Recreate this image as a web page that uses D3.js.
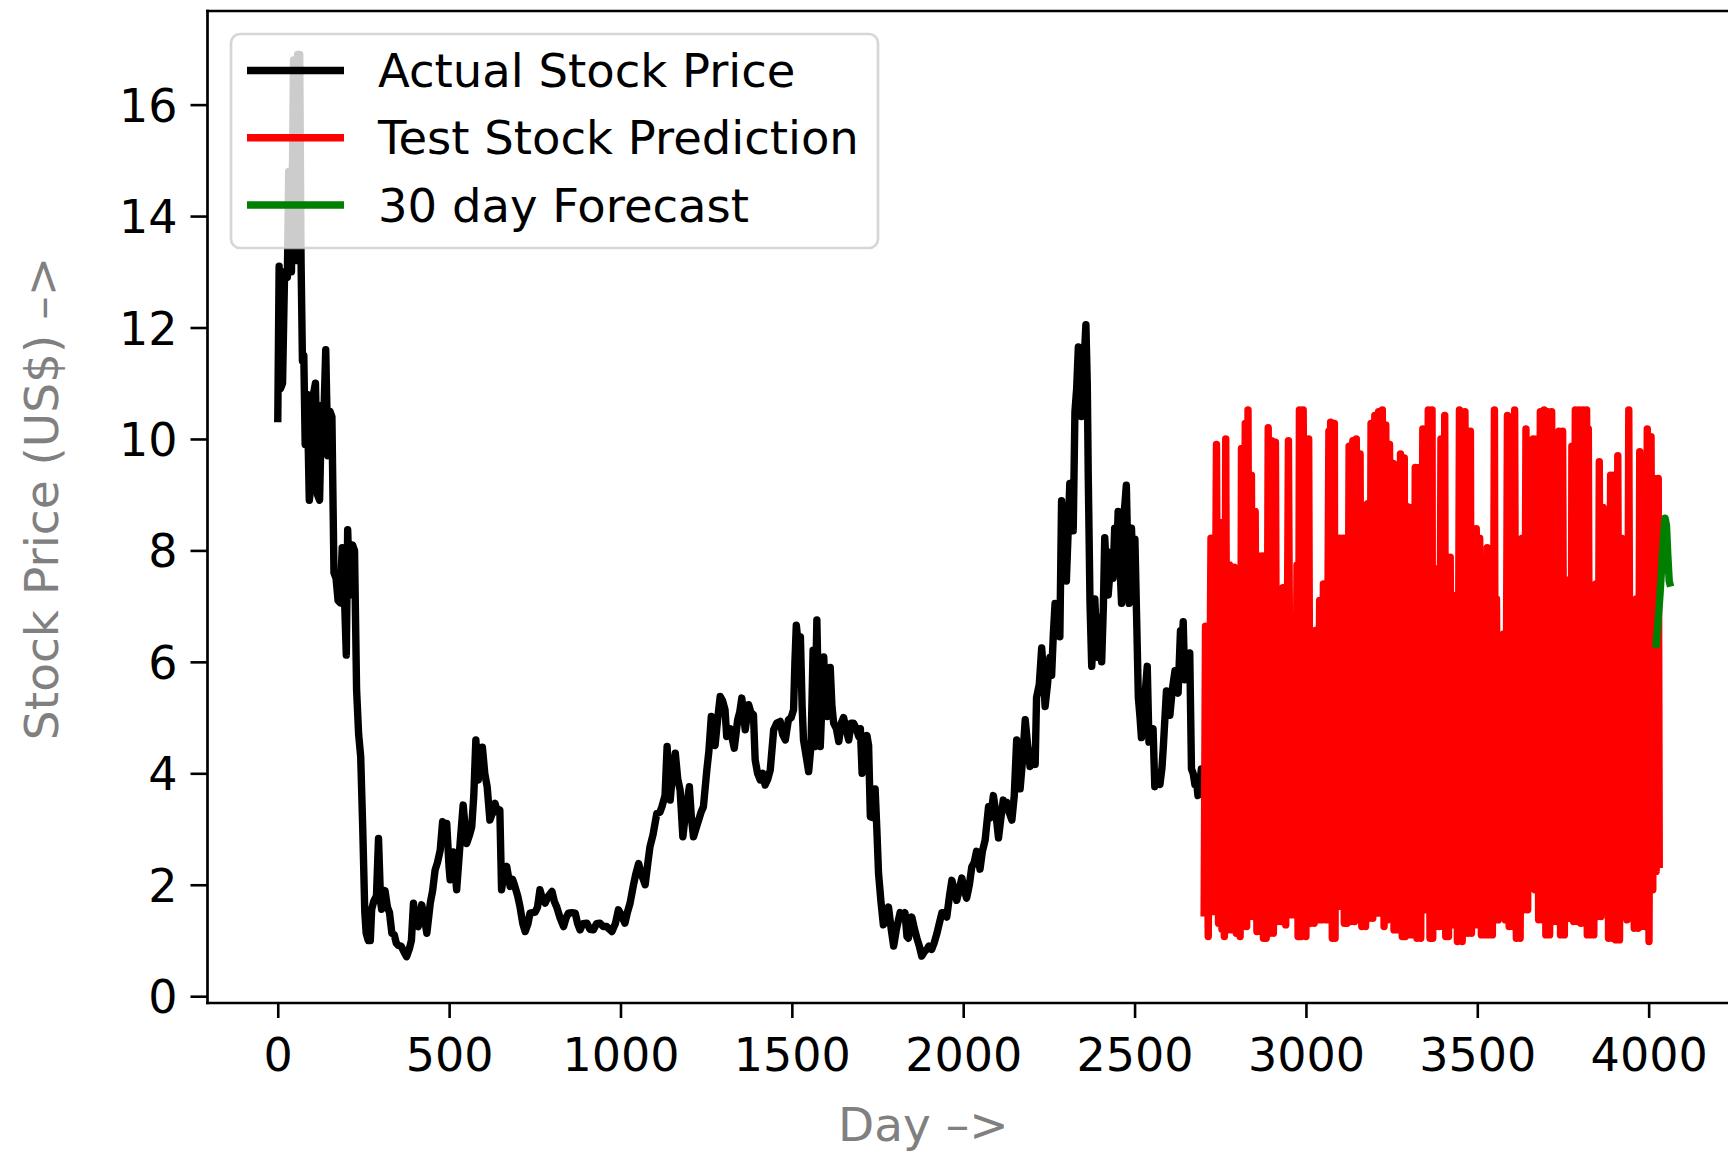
<!DOCTYPE html>
<html><head><meta charset="utf-8">
<script src="https://cdn.jsdelivr.net/npm/d3@7"></script>
<style>html,body{margin:0;padding:0;background:#fff;overflow:hidden}</style>
</head><body><svg id="c" width="1728" height="1158"></svg>
<script>
const xTicks = [0, 500, 1000, 1500, 2000, 2500, 3000, 3500, 4000];
const yTicks = [0, 2, 4, 6, 8, 10, 12, 14, 16];
const seriesNames = ["Actual Stock Price", "Test Stock Prediction", "30 day Forecast"];
const seriesColors = ["#000000", "#ff0000", "#008000"];
const xLabel = "Day –>";
const yLabel = "Stock Price (US$) –>";

// [day, price]
const actualPrice = [
[0,10.3],[4,13.1],[8,10.9],[14,11.0],[20,13.0],[28,12.9],[32,14.8],[40,13.0],[46,16.8],[52,13.2],[58,16.9],[64,16.9],[68,13.2],[72,11.4],[76,11.5],[80,9.9],[86,10.8],[92,8.9],[98,9.2],[104,10.8],[110,11.0],[116,9.0],[122,8.9],[128,10.6],[134,10.3],[140,11.6],[146,9.7],[152,10.5],[158,10.4],[164,7.6],[170,7.5],[176,7.1],[182,7.06],[188,8.05],[194,7.3],[200,6.12],[204,8.37],[210,7.2],[218,8.1],[224,8.0],[230,5.5],[236,4.7],[242,4.3],[248,3.0],[254,1.5],[258,1.13],[264,1.0],[270,1.0],[274,1.56],[280,1.7],[288,1.8],[294,2.83],[300,1.7],[303,1.56],[308,1.9],[313,1.89],[320,1.6],[326,1.5],[333,1.13],[340,1.1],[346,0.95],[352,0.91],[360,0.9],[368,0.8],[376,0.71],[384,0.85],[390,1.0],[396,1.67],[402,1.3],[410,1.25],[420,1.64],[428,1.4],[435,1.13],[445,1.67],[452,1.9],[459,2.26],[466,2.4],[474,2.62],[481,3.13],[487,3.1],[493,3.1],[500,2.3],[503,2.09],[512,2.59],[522,1.91],[532,2.74],[541,3.43],[551,2.74],[560,2.9],[566,3.04],[572,3.6],[578,4.6],[585,3.88],[590,4.2],[597,4.47],[604,4.0],[611,3.76],[619,3.16],[627,3.3],[634,3.46],[641,3.3],[648,3.34],[653,1.91],[660,2.2],[668,2.33],[678,1.97],[685,2.1],[692,1.97],[700,1.8],[707,1.6],[715,1.3],[722,1.16],[730,1.3],[736,1.49],[751,1.51],[758,1.6],[765,1.91],[772,1.75],[780,1.67],[790,1.8],[800,1.88],[807,1.7],[814,1.6],[824,1.4],[834,1.25],[841,1.4],[848,1.49],[858,1.5],[868,1.49],[875,1.3],[882,1.19],[890,1.3],[902,1.31],[911,1.2],[921,1.19],[930,1.3],[940,1.31],[950,1.25],[960,1.25],[968,1.2],[975,1.16],[985,1.3],[994,1.55],[1003,1.45],[1013,1.31],[1020,1.5],[1028,1.67],[1038,2.0],[1045,2.2],[1053,2.38],[1060,2.2],[1067,2.09],[1072,2.0],[1080,2.4],[1086,2.68],[1095,2.9],[1106,3.28],[1115,3.3],[1121,3.4],[1130,3.6],[1136,4.48],[1145,3.52],[1152,4.0],[1160,4.36],[1167,3.9],[1174,3.7],[1182,2.86],[1190,3.3],[1201,3.76],[1207,3.2],[1213,2.86],[1220,3.0],[1228,3.16],[1235,3.3],[1242,3.4],[1252,4.06],[1258,4.4],[1265,5.02],[1270,4.6],[1276,4.5],[1284,5.0],[1291,5.38],[1298,5.3],[1305,5.14],[1310,4.66],[1320,4.8],[1332,4.45],[1342,4.96],[1348,5.1],[1354,5.35],[1364,4.78],[1374,5.23],[1380,5.1],[1388,5.05],[1393,4.24],[1400,4.0],[1408,3.88],[1415,4.0],[1422,3.79],[1430,3.9],[1437,4.06],[1447,4.78],[1456,4.9],[1466,4.93],[1473,4.7],[1481,4.6],[1490,4.96],[1498,5.0],[1505,5.14],[1509,6.0],[1513,6.66],[1519,6.3],[1525,6.45],[1530,5.2],[1534,4.6],[1542,4.3],[1549,4.03],[1556,4.5],[1562,6.21],[1566,4.48],[1573,6.75],[1578,5.2],[1583,4.48],[1593,6.09],[1598,5.4],[1603,5.02],[1612,5.9],[1617,5.2],[1622,4.9],[1630,4.8],[1637,4.57],[1644,4.9],[1651,5.0],[1658,4.8],[1666,4.6],[1673,4.9],[1680,4.9],[1688,4.8],[1695,4.66],[1700,4.8],[1705,4.0],[1712,4.2],[1719,4.68],[1724,4.5],[1729,3.22],[1738,3.2],[1743,3.72],[1748,3.0],[1753,2.2],[1760,1.7],[1767,1.28],[1775,1.4],[1782,1.6],[1790,1.2],[1797,0.9],[1805,1.2],[1816,1.5],[1824,1.4],[1830,1.5],[1836,1.07],[1840,1.04],[1850,1.42],[1858,1.2],[1865,1.04],[1872,0.9],[1879,0.72],[1887,0.8],[1894,0.84],[1900,0.9],[1908,0.84],[1915,0.95],[1923,1.12],[1930,1.3],[1938,1.5],[1945,1.5],[1952,1.42],[1960,1.8],[1967,2.08],[1974,1.9],[1981,1.72],[1988,1.9],[1996,2.12],[2003,1.9],[2010,1.76],[2018,2.0],[2025,2.32],[2032,2.4],[2039,2.6],[2044,2.5],[2049,2.28],[2056,2.6],[2064,2.8],[2069,3.1],[2074,3.4],[2080,3.2],[2088,3.6],[2095,3.3],[2103,2.84],[2110,3.2],[2117,3.52],[2122,3.4],[2127,3.48],[2134,3.3],[2142,3.16],[2149,3.6],[2156,4.6],[2161,4.2],[2166,3.72],[2174,4.3],[2181,4.96],[2188,4.5],[2195,4.12],[2203,4.4],[2210,4.16],[2214,5.36],[2222,5.6],[2229,6.25],[2234,5.8],[2239,5.2],[2246,5.6],[2253,6.08],[2258,5.76],[2263,6.5],[2268,7.05],[2275,6.8],[2282,6.45],[2287,8.89],[2294,8.2],[2301,7.45],[2306,8.3],[2311,9.2],[2316,8.8],[2321,8.35],[2326,10.49],[2331,10.9],[2336,11.65],[2341,11.0],[2345,10.4],[2352,11.3],[2358,12.05],[2362,11.0],[2365,9.28],[2370,7.05],[2375,5.92],[2380,6.5],[2384,7.13],[2389,6.4],[2394,6.08],[2399,6.8],[2404,6.0],[2409,7.0],[2413,8.23],[2418,7.6],[2423,7.2],[2428,7.6],[2432,7.97],[2437,7.5],[2442,8.4],[2447,7.6],[2452,8.7],[2457,7.8],[2462,7.05],[2469,8.6],[2476,9.17],[2480,8.0],[2484,7.05],[2491,8.4],[2496,7.6],[2501,8.2],[2506,6.8],[2511,5.36],[2516,5.0],[2520,4.64],[2528,5.2],[2537,5.92],[2542,4.56],[2548,4.7],[2554,4.8],[2559,3.76],[2566,3.9],[2574,3.8],[2580,4.1],[2584,4.48],[2593,5.48],[2598,5.2],[2603,5.04],[2610,5.5],[2618,5.84],[2622,5.5],[2627,5.44],[2634,6.56],[2638,6.2],[2642,6.72],[2646,5.68],[2654,5.9],[2661,6.16],[2666,4.08],[2671,4.0],[2676,3.8],[2680,3.9],[2685,3.6],[2690,3.8],[2695,4.08],[2700,4.0],[2705,3.9],
[2712,4.0],[2760,4.3],[2820,4.5],[2880,4.4],[2930,4.6],[2963,4.0],[3000,4.8],[3060,5.2],[3120,5.4],[3180,5.6],[3260,5.5],[3340,5.8],[3420,6.0],[3500,5.9],[3566,5.6],[3620,6.0],[3700,6.2],[3780,6.0],[3835,6.0],[3860,6.8],[3872,7.6],[3877,8.0],[3881,6.7],[3900,6.8],[3940,6.6],[3950,6.4],[3960,6.6],[3980,7.2],[3986,9.2],[3990,7.3],[3998,7.3],[4010,6.5],[4030,6.3]
];

const testPrediction = [
[2703,1.43],[2707,6.64],[2715,1.07],[2723,8.22],[2731,1.52],[2739,9.9],[2745,1.31],[2750,8.5],[2755,1.2],[2759,7.74],[2762,1.07],[2766,10.0],[2771,1.19],[2777,7.74],[2784,1.19],[2791,7.7],[2797,1.13],[2804,6.5],[2808,1.07],[2812,9.83],[2817,1.25],[2823,10.28],[2827,1.25],[2831,10.52],[2836,1.43],[2841,9.35],[2846,1.43],[2852,8.7],[2857,1.16],[2863,7.9],[2868,1.16],[2874,7.9],[2876,1.04],[2879,5.82],[2884,1.04],[2890,10.2],[2895,1.13],[2900,9.97],[2905,1.13],[2911,9.94],[2916,1.34],[2922,5.75],[2927,1.34],[2933,7.33],[2941,1.28],[2949,9.97],[2956,1.46],[2963,4.7],[2968,1.46],[2974,7.74],[2977,1.07],[2981,10.52],[2986,1.07],[2992,10.52],[3000,1.07],[3008,10.0],[3013,1.31],[3019,6.3],[3024,1.31],[3029,6.57],[3034,1.37],[3040,7.1],[3045,1.37],[3051,7.4],[3059,1.37],[3067,10.14],[3069,1.37],[3072,10.3],[3077,1.04],[3083,10.28],[3085,1.04],[3088,8.22],[3093,1.61],[3099,8.22],[3104,1.61],[3110,8.22],[3112,1.31],[3115,6.23],[3120,1.31],[3126,9.87],[3131,1.34],[3137,9.97],[3142,1.34],[3147,10.0],[3152,2.09],[3158,9.73],[3163,1.25],[3169,6.37],[3174,1.25],[3180,8.84],[3185,1.4],[3190,10.28],[3195,1.4],[3201,10.42],[3206,1.49],[3212,10.49],[3217,1.49],[3223,10.52],[3228,1.25],[3233,10.25],[3238,1.37],[3244,9.9],[3249,1.76],[3255,9.56],[3257,1.19],[3260,6.23],[3268,1.19],[3276,9.73],[3281,1.07],[3287,9.66],[3290,1.07],[3292,8.8],[3298,1.1],[3303,8.77],[3306,1.1],[3309,8.0],[3314,1.1],[3319,9.49],[3324,1.04],[3330,9.49],[3335,1.04],[3341,10.18],[3343,1.55],[3346,7.54],[3351,1.55],[3357,10.52],[3362,1.04],[3368,10.52],[3370,1.04],[3373,7.4],[3378,1.25],[3384,7.67],[3389,1.25],[3394,10.0],[3400,1.25],[3405,10.42],[3408,1.07],[3411,6.64],[3416,1.07],[3421,7.88],[3426,1.28],[3432,7.19],[3434,1.28],[3437,6.78],[3442,0.98],[3448,10.52],[3456,0.98],[3464,10.49],[3472,1.13],[3480,10.14],[3483,1.13],[3486,8.29],[3491,1.28],[3497,8.39],[3502,1.28],[3507,8.22],[3512,1.1],[3518,7.47],[3523,1.1],[3529,8.05],[3534,1.1],[3539,7.47],[3544,1.1],[3550,10.52],[3553,1.37],[3556,7.13],[3561,1.37],[3566,6.3],[3571,1.97],[3577,6.5],[3582,1.37],[3588,10.42],[3593,1.25],[3599,10.38],[3604,1.25],[3609,10.52],[3614,1.04],[3620,8.15],[3625,1.04],[3631,8.22],[3636,1.55],[3642,10.18],[3647,1.55],[3652,8.84],[3657,2.21],[3663,10.0],[3668,1.91],[3674,10.0],[3679,1.37],[3684,10.49],[3689,1.37],[3695,10.52],[3700,1.1],[3706,10.49],[3711,1.1],[3717,10.49],[3722,1.34],[3727,10.07],[3732,1.34],[3738,10.14],[3743,1.1],[3749,10.14],[3754,1.1],[3760,7.47],[3765,1.4],[3770,7.06],[3773,1.4],[3776,9.87],[3781,1.34],[3786,10.52],[3791,1.34],[3797,10.52],[3802,1.31],[3808,10.52],[3813,1.31],[3819,10.52],[3821,1.1],[3824,10.18],[3829,1.1],[3835,6.71],[3840,1.1],[3846,7.4],[3851,1.43],[3856,9.59],[3861,1.43],[3867,8.77],[3872,1.91],[3878,7.98],[3883,1.04],[3889,9.35],[3894,1.04],[3899,9.35],[3904,1.01],[3910,9.7],[3915,1.01],[3921,8.22],[3926,1.55],[3932,8.15],[3937,1.37],[3942,10.52],[3947,1.85],[3953,7.0],[3958,1.22],[3964,7.13],[3969,1.22],[3974,9.77],[3979,1.25],[3985,5.96],[3990,1.25],[3996,10.18],[4001,0.98],[4007,10.04],[4012,1.91],[4017,9.29],[4022,2.24],[4028,9.29],[4031,2.3]
];

const forecast = [
[4021,6.25],[4027,6.7],[4033,7.2],[4039,7.8],[4044,8.3],[4048,8.58],[4052,8.45],[4056,7.9],[4060,7.45],[4064,7.35]
];

const svg = d3.select("#c");
const x = d3.scaleLinear().domain([-205, 4268]).range([207.5, 1740.5]);
const y = d3.scaleLinear().domain([-0.122, 17.68]).range([1003, 11]);
const FONT = "'DejaVu Sans', sans-serif";
const LW = 7.4;

svg.append("rect").attr("width", 1728).attr("height", 1158).attr("fill", "#fff");

svg.append("defs").append("clipPath").attr("id", "plot")
  .append("rect").attr("x", 207.5).attr("y", 11).attr("width", 1533).attr("height", 992);

const line = d3.line().x(d => x(d[0])).y(d => y(d[1]));
const g = svg.append("g").attr("clip-path", "url(#plot)");
[actualPrice, testPrediction, forecast].forEach((data, i) => {
  g.append("path").datum(data).attr("d", line)
    .attr("fill", "none").attr("stroke", seriesColors[i])
    .attr("stroke-width", LW).attr("stroke-linejoin", "round").attr("stroke-linecap", "butt");
});

// axes
const xAxis = d3.axisBottom(x).tickValues(xTicks).tickFormat(d3.format("d")).tickSize(15).tickPadding(20).tickSizeOuter(0);
const xg = svg.append("g").attr("transform", "translate(0,1003)").call(xAxis);
const yAxis = d3.axisLeft(y).tickValues(yTicks).tickFormat(d3.format("d")).tickSize(17).tickPadding(13).tickSizeOuter(0);
const yg = svg.append("g").attr("transform", "translate(207.5,0)").call(yAxis);
[xg, yg].forEach(a => {
  a.select(".domain").remove();
  a.selectAll(".tick line").attr("stroke", "#000").attr("stroke-width", 2.6);
  a.selectAll(".tick text").attr("fill", "#000").style("font-family", FONT).style("font-size", "46px");
});
yg.selectAll(".tick text").attr("dy", "0.36em");

// spines
const spine = (x1, y1, x2, y2) => svg.append("line").attr("x1", x1).attr("y1", y1).attr("x2", x2).attr("y2", y2)
  .attr("stroke", "#000").attr("stroke-width", 2.7).attr("stroke-linecap", "square");
spine(207.5, 11, 207.5, 1003);
spine(207.5, 1003, 1740.5, 1003);
spine(207.5, 11, 1740.5, 11);

// axis labels
svg.append("text").attr("x", 838).attr("y", 1141).text(xLabel)
  .attr("fill", "#808080").style("font-family", FONT).style("font-size", "47px");
svg.append("text").attr("transform", "translate(58,498.5) rotate(-90)").attr("text-anchor", "middle").text(yLabel)
  .attr("fill", "#808080").style("font-family", FONT).style("font-size", "47px");

// legend
const lg = svg.append("g");
lg.append("rect").attr("x", 231).attr("y", 34).attr("width", 647).attr("height", 214).attr("rx", 9)
  .attr("fill", "#fff").attr("fill-opacity", 0.8).attr("stroke", "#cccccc").attr("stroke-opacity", 0.8).attr("stroke-width", 2.7);
const legendY = [70.5, 137.8, 205];
seriesNames.forEach((name, i) => {
  lg.append("line").attr("x1", 247).attr("x2", 344).attr("y1", legendY[i]).attr("y2", legendY[i])
    .attr("stroke", seriesColors[i]).attr("stroke-width", LW);
  lg.append("text").attr("x", 378).attr("y", legendY[i] + 16.5).text(name)
    .attr("fill", "#000").style("font-family", FONT).style("font-size", "46.5px");
});
</script></body></html>
